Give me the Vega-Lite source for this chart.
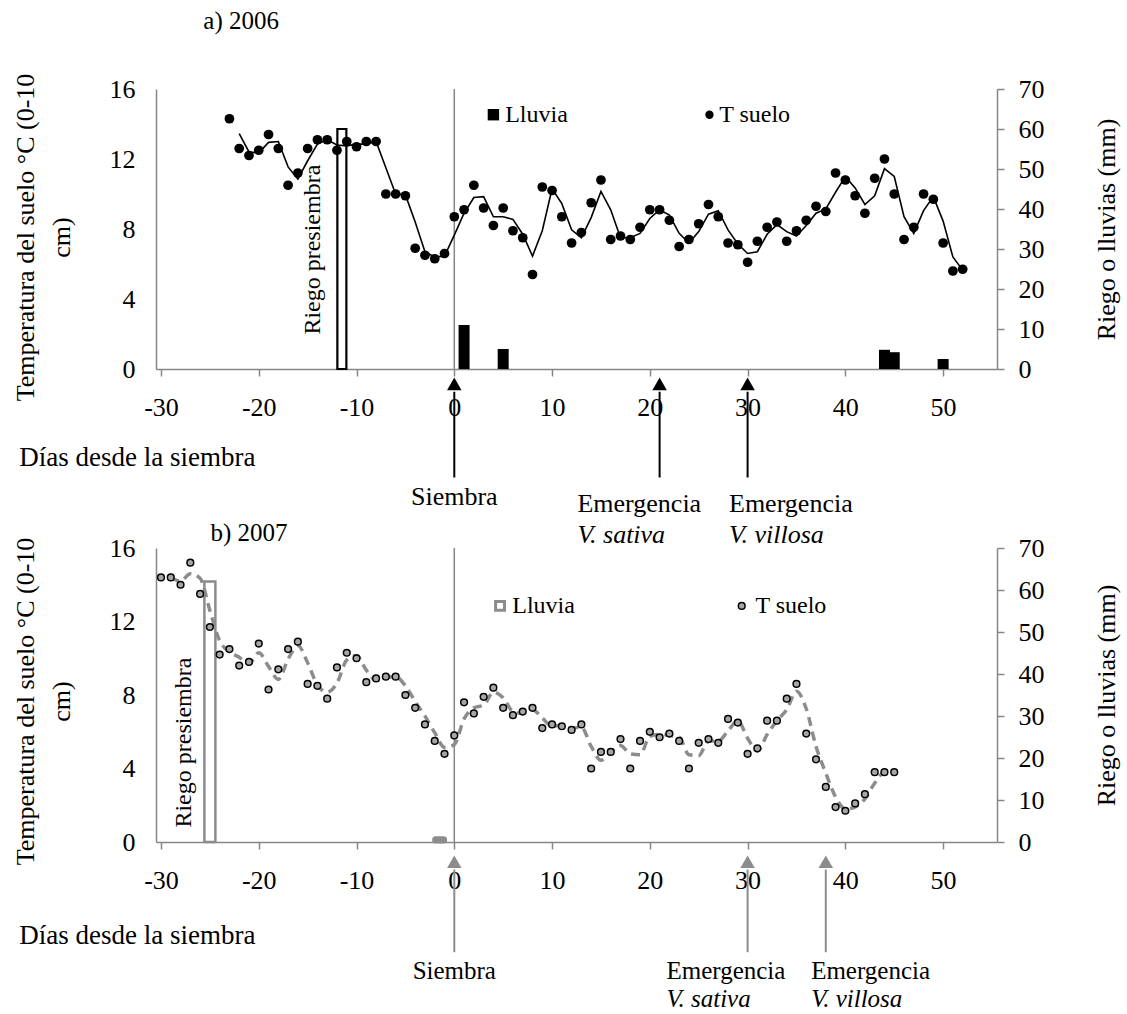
{
  "$schema": "https://vega.github.io/schema/vega-lite/v6.json",
  "autosize": {"type": "pad"},
  "padding": {"left": 12, "top": 9, "right": 5, "bottom": 2},
  "background": "white",
  "bounds": "flush",
  "spacing": 179,
  "config": {
    "font": "Liberation Serif",
    "view": {"stroke": null},
    "axis": {
      "grid": false,
      "domainColor": "#868686",
      "domainWidth": 1.5,
      "tickColor": "#868686",
      "tickWidth": 1.5,
      "labelFont": "Liberation Serif",
      "labelFontSize": 26,
      "labelColor": "#000000",
      "labelOverlap": false,
      "titleFont": "Liberation Serif",
      "titleFontSize": 26,
      "titleFontWeight": "normal",
      "titleColor": "#000000"
    },
    "text": {"font": "Liberation Serif", "fontSize": 26, "color": "#000000"}
  },
  "datasets": {
    "suelo2006": [
      {"dia": -23, "t": 14.3},
      {"dia": -22, "t": 12.6, "media": 13.45},
      {"dia": -21, "t": 12.2, "media": 12.4},
      {"dia": -20, "t": 12.5, "media": 12.35},
      {"dia": -19, "t": 13.4, "media": 12.95},
      {"dia": -18, "t": 12.6, "media": 13.0},
      {"dia": -17, "t": 10.5, "media": 11.55},
      {"dia": -16, "t": 11.2, "media": 10.85},
      {"dia": -15, "t": 12.6, "media": 11.9},
      {"dia": -14, "t": 13.1, "media": 12.85},
      {"dia": -13, "t": 13.1, "media": 13.1},
      {"dia": -12, "t": 12.5, "media": 12.8},
      {"dia": -11, "t": 13.0, "media": 12.75},
      {"dia": -10, "t": 12.7, "media": 12.85},
      {"dia": -9, "t": 13.0, "media": 12.85},
      {"dia": -8, "t": 13.0, "media": 13.0},
      {"dia": -7, "t": 10.0, "media": 11.5},
      {"dia": -6, "t": 10.0, "media": 10.0},
      {"dia": -5, "t": 9.9, "media": 9.95},
      {"dia": -4, "t": 6.9, "media": 8.4},
      {"dia": -3, "t": 6.5, "media": 6.7},
      {"dia": -2, "t": 6.3, "media": 6.4},
      {"dia": -1, "t": 6.6, "media": 6.45},
      {"dia": 0, "t": 8.7, "media": 7.65},
      {"dia": 1, "t": 9.1, "media": 8.9},
      {"dia": 2, "t": 10.5, "media": 9.8},
      {"dia": 3, "t": 9.2, "media": 9.85},
      {"dia": 4, "t": 8.2, "media": 8.7},
      {"dia": 5, "t": 9.2, "media": 8.7},
      {"dia": 6, "t": 7.9, "media": 8.55},
      {"dia": 7, "t": 7.5, "media": 7.7},
      {"dia": 8, "t": 5.4, "media": 6.45},
      {"dia": 9, "t": 10.4, "media": 7.9},
      {"dia": 10, "t": 10.2, "media": 10.3},
      {"dia": 11, "t": 8.7, "media": 9.45},
      {"dia": 12, "t": 7.2, "media": 7.95},
      {"dia": 13, "t": 7.8, "media": 7.5},
      {"dia": 14, "t": 9.5, "media": 8.65},
      {"dia": 15, "t": 10.8, "media": 10.15},
      {"dia": 16, "t": 7.4, "media": 9.1},
      {"dia": 17, "t": 7.6, "media": 7.5},
      {"dia": 18, "t": 7.4, "media": 7.5},
      {"dia": 19, "t": 8.1, "media": 7.75},
      {"dia": 20, "t": 9.1, "media": 8.6},
      {"dia": 21, "t": 9.1, "media": 9.1},
      {"dia": 22, "t": 8.5, "media": 8.8},
      {"dia": 23, "t": 7.0, "media": 7.75},
      {"dia": 24, "t": 7.4, "media": 7.2},
      {"dia": 25, "t": 8.3, "media": 7.85},
      {"dia": 26, "t": 9.4, "media": 8.85},
      {"dia": 27, "t": 8.7, "media": 9.05},
      {"dia": 28, "t": 7.2, "media": 7.95},
      {"dia": 29, "t": 7.1, "media": 7.15},
      {"dia": 30, "t": 6.1, "media": 6.6},
      {"dia": 31, "t": 7.3, "media": 6.7},
      {"dia": 32, "t": 8.1, "media": 7.7},
      {"dia": 33, "t": 8.4, "media": 8.25},
      {"dia": 34, "t": 7.3, "media": 7.85},
      {"dia": 35, "t": 7.9, "media": 7.6},
      {"dia": 36, "t": 8.5, "media": 8.2},
      {"dia": 37, "t": 9.3, "media": 8.9},
      {"dia": 38, "t": 9.0, "media": 9.15},
      {"dia": 39, "t": 11.2, "media": 10.1},
      {"dia": 40, "t": 10.8, "media": 11.0},
      {"dia": 41, "t": 9.9, "media": 10.35},
      {"dia": 42, "t": 8.9, "media": 9.4},
      {"dia": 43, "t": 10.9, "media": 9.9},
      {"dia": 44, "t": 12.0, "media": 11.45},
      {"dia": 45, "t": 10.0, "media": 11.0},
      {"dia": 46, "t": 7.4, "media": 8.7},
      {"dia": 47, "t": 8.1, "media": 7.75},
      {"dia": 48, "t": 10.0, "media": 9.05},
      {"dia": 49, "t": 9.7, "media": 9.85},
      {"dia": 50, "t": 7.2, "media": 8.45},
      {"dia": 51, "t": 5.6, "media": 6.4},
      {"dia": 52, "t": 5.7, "media": 5.65}
    ],
    "lluvia2006": [
      {"dia": 1, "mm": 11},
      {"dia": 5, "mm": 5},
      {"dia": 44, "mm": 4.8},
      {"dia": 45, "mm": 4.2},
      {"dia": 50, "mm": 2.5}
    ],
    "riego2006": [
      {"dia": -11.5, "mm": 60}
    ],
    "hitos2006": [
      {"dia": 0, "hito": "Siembra"},
      {"dia": 21, "hito": "Emergencia V. sativa"},
      {"dia": 30, "hito": "Emergencia V. villosa"}
    ],
    "suelo2007": [
      {"dia": -30, "t": 14.4},
      {"dia": -29, "t": 14.4, "media": 14.4},
      {"dia": -28, "t": 14.0, "media": 14.2},
      {"dia": -27, "t": 15.2, "media": 14.6},
      {"dia": -26, "t": 13.5, "media": 14.35},
      {"dia": -25, "t": 11.7, "media": 12.6},
      {"dia": -24, "t": 10.2, "media": 10.95},
      {"dia": -23, "t": 10.5, "media": 10.35},
      {"dia": -22, "t": 9.6, "media": 10.05},
      {"dia": -21, "t": 9.8, "media": 9.7},
      {"dia": -20, "t": 10.8, "media": 10.3},
      {"dia": -19, "t": 8.3, "media": 9.55},
      {"dia": -18, "t": 9.4, "media": 8.85},
      {"dia": -17, "t": 10.5, "media": 9.95},
      {"dia": -16, "t": 10.9, "media": 10.7},
      {"dia": -15, "t": 8.6, "media": 9.75},
      {"dia": -14, "t": 8.5, "media": 8.55},
      {"dia": -13, "t": 7.8, "media": 8.15},
      {"dia": -12, "t": 9.5, "media": 8.65},
      {"dia": -11, "t": 10.3, "media": 9.9},
      {"dia": -10, "t": 10.0, "media": 10.15},
      {"dia": -9, "t": 8.7, "media": 9.35},
      {"dia": -8, "t": 8.9, "media": 8.8},
      {"dia": -7, "t": 9.0, "media": 8.95},
      {"dia": -6, "t": 9.0, "media": 9.0},
      {"dia": -5, "t": 8.0, "media": 8.5},
      {"dia": -4, "t": 7.3, "media": 7.65},
      {"dia": -3, "t": 6.4, "media": 6.85},
      {"dia": -2, "t": 5.5, "media": 5.95},
      {"dia": -1, "t": 4.8, "media": 5.15},
      {"dia": 0, "t": 5.8, "media": 5.3},
      {"dia": 1, "t": 7.6, "media": 6.7},
      {"dia": 2, "t": 7.0, "media": 7.3},
      {"dia": 3, "t": 7.9, "media": 7.45},
      {"dia": 4, "t": 8.4, "media": 8.15},
      {"dia": 5, "t": 7.3, "media": 7.85},
      {"dia": 6, "t": 6.9, "media": 7.1},
      {"dia": 7, "t": 7.1, "media": 7.0},
      {"dia": 8, "t": 7.3, "media": 7.2},
      {"dia": 9, "t": 6.2, "media": 6.75},
      {"dia": 10, "t": 6.4, "media": 6.3},
      {"dia": 11, "t": 6.3, "media": 6.35},
      {"dia": 12, "t": 6.1, "media": 6.2},
      {"dia": 13, "t": 6.4, "media": 6.25},
      {"dia": 14, "t": 4.0, "media": 5.2},
      {"dia": 15, "t": 4.9, "media": 4.45},
      {"dia": 16, "t": 4.9, "media": 4.9},
      {"dia": 17, "t": 5.6, "media": 5.25},
      {"dia": 18, "t": 4.0, "media": 4.8},
      {"dia": 19, "t": 5.5, "media": 4.75},
      {"dia": 20, "t": 6.0, "media": 5.75},
      {"dia": 21, "t": 5.7, "media": 5.85},
      {"dia": 22, "t": 5.9, "media": 5.8},
      {"dia": 23, "t": 5.5, "media": 5.7},
      {"dia": 24, "t": 4.0, "media": 4.75},
      {"dia": 25, "t": 5.4, "media": 4.7},
      {"dia": 26, "t": 5.6, "media": 5.5},
      {"dia": 27, "t": 5.4, "media": 5.5},
      {"dia": 28, "t": 6.7, "media": 6.05},
      {"dia": 29, "t": 6.5, "media": 6.6},
      {"dia": 30, "t": 4.8, "media": 5.65},
      {"dia": 31, "t": 5.1, "media": 4.95},
      {"dia": 32, "t": 6.6, "media": 5.85},
      {"dia": 33, "t": 6.6, "media": 6.6},
      {"dia": 34, "t": 7.8, "media": 7.2},
      {"dia": 35, "t": 8.6, "media": 8.2},
      {"dia": 36, "t": 5.9, "media": 7.25},
      {"dia": 37, "t": 4.5, "media": 5.2},
      {"dia": 38, "t": 3.0, "media": 3.75},
      {"dia": 39, "t": 1.9, "media": 2.45},
      {"dia": 40, "t": 1.7, "media": 1.8},
      {"dia": 41, "t": 2.1, "media": 1.9},
      {"dia": 42, "t": 2.6, "media": 2.35},
      {"dia": 43, "t": 3.8, "media": 3.2},
      {"dia": 44, "t": 3.8, "media": 3.8},
      {"dia": 45, "t": 3.8, "media": 3.8}
    ],
    "lluvia2007": [
      {"dia": -1.5, "mm": 1}
    ],
    "riego2007": [
      {"dia": -25, "mm": 62}
    ],
    "hitos2007": [
      {"dia": 0, "hito": "Siembra"},
      {"dia": 30, "hito": "Emergencia V. sativa"},
      {"dia": 38, "hito": "Emergencia V. villosa"}
    ]
  },
  "vconcat": [
    {
      "width": 841,
      "height": 280,
      "resolve": {"scale": {"y": "independent"}},
      "layer": [
        {
          "layer": [
            {
              "data": {"name": "riego2006"},
              "mark": {"type": "bar", "fill": "white", "stroke": "black", "strokeWidth": 2.2, "size": 9},
              "encoding": {
                "x": {
                  "field": "dia", "type": "quantitative",
                  "scale": {"domain": [-30, 55], "nice": false, "zero": false},
                  "axis": {"values": [-30, -20, -10, 0, 10, 20, 30, 40, 50], "tickCount": 20, "labelExpr": "'' + datum.value", "title": null, "tickSize": 7, "labelPadding": 18, "labelFlush": false, "labelOverlap": false}
                },
                "y": {
                  "field": "mm", "type": "quantitative",
                  "scale": {"domain": [0, 70], "nice": false},
                  "axis": {"orient": "right", "values": [0, 10, 20, 30, 40, 50, 60, 70], "tickCount": 10, "labelOverlap": false, "labelFlush": false, "tickSize": 7, "labelPadding": 14, "title": "Riego o lluvias (mm)", "titleAngle": 270, "titleX": 109, "titleY": 140, "titleAlign": "center", "titleBaseline": "middle"}
                }
              }
            },
            {
              "data": {"name": "lluvia2006"},
              "mark": {"type": "bar", "color": "black", "size": 11},
              "encoding": {
                "x": {"field": "dia", "type": "quantitative"},
                "y": {"field": "mm", "type": "quantitative"}
              }
            }
          ]
        },
        {
          "layer": [
            {
              "data": {"values": [{}]},
              "mark": {"type": "rule", "color": "#868686", "strokeWidth": 1.5},
              "encoding": {
                "x": {"datum": 0},
                "y": {"datum": 0},
                "y2": {"datum": 16}
              }
            },
            {
              "data": {"name": "suelo2006"},
              "mark": {"type": "line", "color": "black", "strokeWidth": 1.6},
              "encoding": {
                "x": {"field": "dia", "type": "quantitative"},
                "y": {"field": "media", "type": "quantitative"}
              }
            },
            {
              "data": {"name": "suelo2006"},
              "mark": {"type": "circle", "color": "black", "size": 95, "opacity": 1},
              "encoding": {
                "x": {"field": "dia", "type": "quantitative"},
                "y": {
                  "field": "t", "type": "quantitative",
                  "scale": {"domain": [0, 16], "nice": false},
                  "axis": {"orient": "left", "values": [0, 4, 8, 12, 16], "tickCount": 10, "labelOverlap": false, "labelFlush": false, "ticks": false, "labelPadding": 21, "title": ["Temperatura del suelo °C (0-10", "cm)"], "titleAngle": 270, "titleX": -131, "titleY": 148, "titleAlign": "center", "titleBaseline": "middle", "titleLineHeight": 36}
                }
              }
            },
            {
              "data": {"values": [{}]},
              "mark": {"type": "point", "shape": "square", "filled": true, "color": "black", "size": 130, "opacity": 1},
              "encoding": {"x": {"datum": 4.0}, "y": {"datum": 14.53}}
            },
            {
              "data": {"values": [{}]},
              "mark": {"type": "text", "align": "left", "baseline": "middle", "fontSize": 24, "text": "Lluvia"},
              "encoding": {"x": {"datum": 5.2}, "y": {"datum": 14.53}}
            },
            {
              "data": {"values": [{}]},
              "mark": {"type": "circle", "color": "black", "size": 70, "opacity": 1},
              "encoding": {"x": {"datum": 26.1}, "y": {"datum": 14.53}}
            },
            {
              "data": {"values": [{}]},
              "mark": {"type": "text", "align": "left", "baseline": "middle", "fontSize": 24, "text": "T suelo"},
              "encoding": {"x": {"datum": 27.1}, "y": {"datum": 14.53}}
            },
            {
              "data": {"values": [{}]},
              "mark": {"type": "text", "angle": 270, "align": "center", "baseline": "middle", "fontSize": 24, "text": "Riego presiembra"},
              "encoding": {"x": {"datum": -14.5}, "y": {"datum": 6.82}}
            },
            {
              "data": {"values": [{}]},
              "mark": {"type": "text", "align": "center", "baseline": "middle", "fontSize": 25, "text": "a) 2006"},
              "encoding": {"x": {"datum": -21.8}, "y": {"datum": 19.86}}
            },
            {
              "data": {"values": [{}]},
              "mark": {"type": "text", "align": "left", "baseline": "middle", "fontSize": 27, "text": "Días desde la siembra"},
              "encoding": {"x": {"datum": -44.5}, "y": {"datum": -5.1}}
            },
            {
              "data": {"name": "hitos2006"},
              "mark": {"type": "rule", "color": "black", "strokeWidth": 2},
              "encoding": {
                "x": {"field": "dia", "type": "quantitative"},
                "y": {"datum": -1.3},
                "y2": {"datum": -6.2}
              }
            },
            {
              "data": {"name": "hitos2006"},
              "mark": {"type": "point", "shape": "triangle-up", "filled": true, "color": "black", "size": 210, "opacity": 1},
              "encoding": {
                "x": {"field": "dia", "type": "quantitative"},
                "y": {"datum": -0.85}
              }
            },
            {
              "data": {"values": [{}]},
              "mark": {"type": "text", "align": "center", "baseline": "middle", "text": "Siembra"},
              "encoding": {"x": {"datum": 0}, "y": {"datum": -7.29}}
            },
            {
              "data": {"values": [{}]},
              "mark": {"type": "text", "align": "left", "baseline": "middle", "text": "Emergencia"},
              "encoding": {"x": {"datum": 12.6}, "y": {"datum": -7.7}}
            },
            {
              "data": {"values": [{}]},
              "mark": {"type": "text", "align": "left", "baseline": "middle", "fontStyle": "italic", "text": "V. sativa"},
              "encoding": {"x": {"datum": 12.6}, "y": {"datum": -9.47}}
            },
            {
              "data": {"values": [{}]},
              "mark": {"type": "text", "align": "left", "baseline": "middle", "text": "Emergencia"},
              "encoding": {"x": {"datum": 28.1}, "y": {"datum": -7.7}}
            },
            {
              "data": {"values": [{}]},
              "mark": {"type": "text", "align": "left", "baseline": "middle", "fontStyle": "italic", "text": "V. villosa"},
              "encoding": {"x": {"datum": 28.1}, "y": {"datum": -9.47}}
            }
          ]
        }
      ]
    },
    {
      "width": 841,
      "height": 294,
      "resolve": {"scale": {"y": "independent"}},
      "layer": [
        {
          "layer": [
            {
              "data": {"name": "riego2007"},
              "mark": {"type": "bar", "fill": "white", "fillOpacity": 0, "stroke": "#8c8c8c", "strokeWidth": 2.5, "size": 11},
              "encoding": {
                "x": {
                  "field": "dia", "type": "quantitative",
                  "scale": {"domain": [-30, 55], "nice": false, "zero": false},
                  "axis": {"values": [-30, -20, -10, 0, 10, 20, 30, 40, 50], "tickCount": 20, "labelExpr": "'' + datum.value", "title": null, "tickSize": 7, "labelPadding": 18, "labelFlush": false, "labelOverlap": false}
                },
                "y": {
                  "field": "mm", "type": "quantitative",
                  "scale": {"domain": [0, 70], "nice": false},
                  "axis": {"orient": "right", "values": [0, 10, 20, 30, 40, 50, 60, 70], "tickCount": 10, "labelOverlap": false, "labelFlush": false, "tickSize": 7, "labelPadding": 14, "title": "Riego o lluvias (mm)", "titleAngle": 270, "titleX": 109, "titleY": 147, "titleAlign": "center", "titleBaseline": "middle"}
                }
              }
            },
            {
              "data": {"name": "lluvia2007"},
              "mark": {"type": "bar", "fill": "#8c8c8c", "stroke": "#8c8c8c", "strokeWidth": 3, "size": 12, "cornerRadius": 2},
              "encoding": {
                "x": {"field": "dia", "type": "quantitative"},
                "y": {"field": "mm", "type": "quantitative"}
              }
            }
          ]
        },
        {
          "layer": [
            {
              "data": {"values": [{}]},
              "mark": {"type": "rule", "color": "#868686", "strokeWidth": 1.5},
              "encoding": {
                "x": {"datum": 0},
                "y": {"datum": 0},
                "y2": {"datum": 16}
              }
            },
            {
              "data": {"name": "suelo2007"},
              "mark": {"type": "line", "color": "#8c8c8c", "strokeWidth": 3.5, "strokeDash": [9, 6], "interpolate": "monotone"},
              "encoding": {
                "x": {"field": "dia", "type": "quantitative"},
                "y": {"field": "media", "type": "quantitative"}
              }
            },
            {
              "data": {"name": "suelo2007"},
              "mark": {"type": "circle", "fill": "#a6a6a6", "stroke": "black", "strokeWidth": 1.5, "size": 45, "opacity": 1},
              "encoding": {
                "x": {"field": "dia", "type": "quantitative"},
                "y": {
                  "field": "t", "type": "quantitative",
                  "scale": {"domain": [0, 16], "nice": false},
                  "axis": {"orient": "left", "values": [0, 4, 8, 12, 16], "tickCount": 10, "labelOverlap": false, "labelFlush": false, "ticks": false, "labelPadding": 21, "title": ["Temperatura del suelo °C (0-10", "cm)"], "titleAngle": 270, "titleX": -131, "titleY": 153, "titleAlign": "center", "titleBaseline": "middle", "titleLineHeight": 36}
                }
              }
            },
            {
              "data": {"values": [{}]},
              "mark": {"type": "point", "shape": "square", "filled": false, "stroke": "#8c8c8c", "strokeWidth": 3, "size": 80, "opacity": 1},
              "encoding": {"x": {"datum": 4.68}, "y": {"datum": 12.85}}
            },
            {
              "data": {"values": [{}]},
              "mark": {"type": "text", "align": "left", "baseline": "middle", "fontSize": 24, "text": "Lluvia"},
              "encoding": {"x": {"datum": 5.93}, "y": {"datum": 12.85}}
            },
            {
              "data": {"values": [{}]},
              "mark": {"type": "circle", "fill": "#a6a6a6", "stroke": "black", "strokeWidth": 1.5, "size": 45, "opacity": 1},
              "encoding": {"x": {"datum": 29.4}, "y": {"datum": 12.85}}
            },
            {
              "data": {"values": [{}]},
              "mark": {"type": "text", "align": "left", "baseline": "middle", "fontSize": 24, "text": "T suelo"},
              "encoding": {"x": {"datum": 30.8}, "y": {"datum": 12.85}}
            },
            {
              "data": {"values": [{}]},
              "mark": {"type": "text", "angle": 270, "align": "center", "baseline": "middle", "fontSize": 24, "text": "Riego presiembra"},
              "encoding": {"x": {"datum": -27.6}, "y": {"datum": 5.41}}
            },
            {
              "data": {"values": [{}]},
              "mark": {"type": "text", "align": "center", "baseline": "middle", "fontSize": 25, "text": "b) 2007"},
              "encoding": {"x": {"datum": -21}, "y": {"datum": 16.8}}
            },
            {
              "data": {"values": [{}]},
              "mark": {"type": "text", "align": "left", "baseline": "middle", "fontSize": 27, "text": "Días desde la siembra"},
              "encoding": {"x": {"datum": -44.5}, "y": {"datum": -5.1}}
            },
            {
              "data": {"name": "hitos2007"},
              "mark": {"type": "rule", "color": "#8c8c8c", "strokeWidth": 2},
              "encoding": {
                "x": {"field": "dia", "type": "quantitative"},
                "y": {"datum": -1.5},
                "y2": {"datum": -6.0}
              }
            },
            {
              "data": {"name": "hitos2007"},
              "mark": {"type": "point", "shape": "triangle-up", "filled": true, "color": "#8c8c8c", "size": 210, "opacity": 1},
              "encoding": {
                "x": {"field": "dia", "type": "quantitative"},
                "y": {"datum": -1.08}
              }
            },
            {
              "data": {"values": [{}]},
              "mark": {"type": "text", "align": "center", "baseline": "middle", "fontSize": 25, "text": "Siembra"},
              "encoding": {"x": {"datum": 0}, "y": {"datum": -7.03}}
            },
            {
              "data": {"values": [{}]},
              "mark": {"type": "text", "align": "left", "baseline": "middle", "fontSize": 25, "text": "Emergencia"},
              "encoding": {"x": {"datum": 21.7}, "y": {"datum": -7.03}}
            },
            {
              "data": {"values": [{}]},
              "mark": {"type": "text", "align": "left", "baseline": "middle", "fontSize": 25, "fontStyle": "italic", "text": "V. sativa"},
              "encoding": {"x": {"datum": 21.7}, "y": {"datum": -8.56}}
            },
            {
              "data": {"values": [{}]},
              "mark": {"type": "text", "align": "left", "baseline": "middle", "fontSize": 25, "text": "Emergencia"},
              "encoding": {"x": {"datum": 36.5}, "y": {"datum": -7.03}}
            },
            {
              "data": {"values": [{}]},
              "mark": {"type": "text", "align": "left", "baseline": "middle", "fontSize": 25, "fontStyle": "italic", "text": "V. villosa"},
              "encoding": {"x": {"datum": 36.5}, "y": {"datum": -8.56}}
            }
          ]
        }
      ]
    }
  ]
}
